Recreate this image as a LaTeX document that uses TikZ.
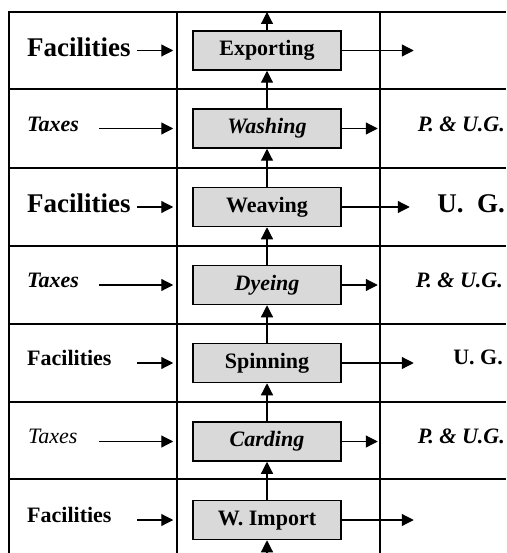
\documentclass[tikz,border=0pt]{standalone}
\usepackage{fontspec}
\setmainfont{Liberation Serif}
\usetikzlibrary{arrows.meta}
\frenchspacing
\newcommand{\txtsize}{\fontsize{22}{24}\selectfont}
\newcommand{\bigsize}{\fontsize{27}{30}\selectfont}
\tikzset{
	stage/.style={draw, line width=1.5pt, fill=gray!30, minimum width=148pt,
		minimum height=39pt, inner sep=0pt, text height=15pt, text depth=5pt,
		font=\txtsize\bfseries},
	flow/.style={line width=1.2pt, -{Triangle[length=12pt,width=12pt]}},
	rule/.style={line width=1.5pt},
	lab/.style={anchor=base west, inner sep=0pt, font=\txtsize\bfseries},
	rlab/.style={anchor=base east, inner sep=0pt, font=\txtsize\bfseries\itshape},
}
\begin{document}
\begin{tikzpicture}[x=1pt,y=-1pt]
		\useasboundingbox (0,0) rectangle (506,553);
		
		% Table lines
		\draw[rule] (506,12) -- (9,12) -- (9,553);
		\foreach \y in {89,168,246,324,402,479}
			\draw[rule] (9,\y) -- (506,\y);
		\draw[rule] (177,12) -- (177,553);
		\draw[rule] (380,12) -- (380,553);
		
		% Stages
		\node[stage] (exp) at (267,50.5) {Exporting};
		\node[stage] (wash) at (267,128.5) {\itshape Washing};
		\node[stage] (weave) at (267,207) {Weaving};
		\node[stage] (dye) at (267,285) {\itshape Dyeing};
		\node[stage] (spin) at (267,363) {Spinning};
		\node[stage] (card) at (267,441.5) {\itshape Carding};
		\node[stage] (imp) at (267,520) {W. Import};
		
		% Main flow
		\coordinate (bot) at (267,553);
		\coordinate (top) at (267,12);
		\draw[flow] (bot) -- (imp);
		\draw[flow] (imp) -- (card);
		\draw[flow] (card) -- (spin);
		\draw[flow] (spin) -- (dye);
		\draw[flow] (dye) -- (weave);
		\draw[flow] (weave) -- (wash);
		\draw[flow] (wash) -- (exp);
		\draw[flow] (exp) -- (top);
		
		% Inputs
		\foreach \n/\s in {exp/55,wash/93,weave/55,dye/93,spin/55,card/93,imp/55}
			\draw[flow] ([xshift=-\s pt]\n.west) -- ([xshift=-19pt]\n.west);
		
		% Outputs
		\foreach \n/\s in {exp/72,wash/36,weave/68,dye/36,spin/72,card/36,imp/72}
			\draw[flow] (\n.east) -- ([xshift=\s pt]\n.east);
		
		% Left labels
		\node[lab, font=\bigsize\bfseries] (fac1) at (27,57) {Facilities};
		\node[lab] (tax2) at (27,132) {\itshape Taxes};
		\node[lab, font=\bigsize\bfseries] (fac3) at (27,212) {Facilities};
		\node[lab] (tax4) at (27,287) {\itshape Taxes};
		\node[lab] (fac5) at (27,365) {Facilities};
		\node[lab, font=\txtsize\itshape] (tax6) at (28,443) {Taxes};
		\node[lab] (fac7) at (27,522) {Facilities};
		
		% Right labels
		\node[rlab] (pug2) at (505,132) {P. \& U.G.};
		\node[rlab, font=\bigsize\bfseries] (ug3) at (505,212) {U.\ \ G.};
		\node[rlab] (pug4) at (503,287) {P. \& U.G.};
		\node[rlab, font=\txtsize\bfseries] (ug5) at (503,364) {U. G.};
		\node[rlab] (pug6) at (505,443) {P. \& U.G.};
	\end{tikzpicture}
\end{document}
